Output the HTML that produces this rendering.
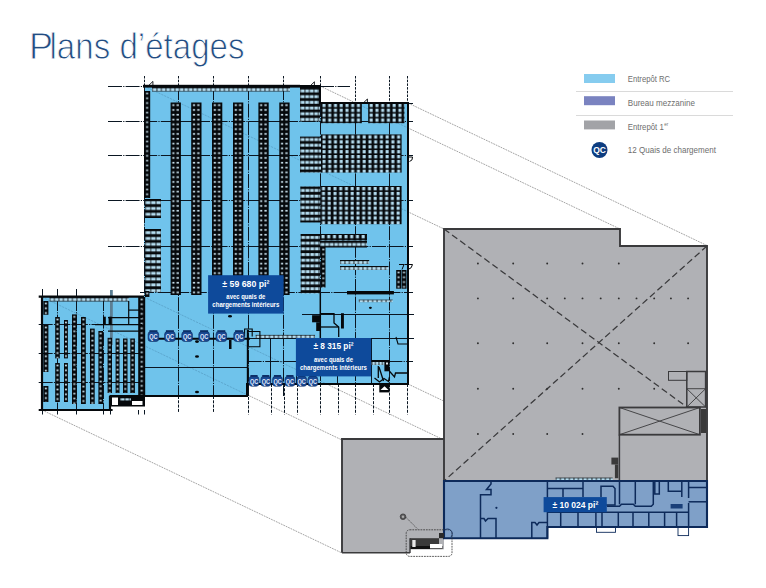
<!DOCTYPE html><html><head><meta charset="utf-8"><style>
html,body{margin:0;padding:0;background:#fff;width:766px;height:588px;overflow:hidden}
svg{position:absolute;left:0;top:0;display:block}
text{font-family:"Liberation Sans",sans-serif}
</style></head><body>
<svg width="766" height="588" viewBox="0 0 766 588">
<defs>
<pattern id="p0" x="152.40" y="86.50" width="4.5" height="5.7" patternUnits="userSpaceOnUse"><rect width="4.5" height="5.7" fill="#05080b"/><rect x="0.4" y="1.7" width="3.7" height="2.9" fill="#b4dcef"/></pattern>
<pattern id="p1" x="144.00" y="91.00" width="6.199999999999989" height="4.8" patternUnits="userSpaceOnUse"><rect width="6.199999999999989" height="4.8" fill="#05080b"/><rect x="2.0999999999999943" y="1.6" width="2.0" height="1.7" fill="#c4dce8"/></pattern>
<pattern id="p2" x="145.40" y="199.00" width="5.3" height="5.8" patternUnits="userSpaceOnUse"><rect width="5.3" height="5.8" fill="#05080b"/><rect x="0.4" y="2.2" width="4.5" height="2.9" fill="#b4dcef"/></pattern>
<pattern id="p3" x="145.40" y="229.00" width="5.3" height="5.8" patternUnits="userSpaceOnUse"><rect width="5.3" height="5.8" fill="#05080b"/><rect x="0.4" y="2.2" width="4.5" height="2.9" fill="#b4dcef"/></pattern>
<pattern id="p4" x="145.00" y="291.00" width="4.400000000000006" height="4.8" patternUnits="userSpaceOnUse"><rect width="4.400000000000006" height="4.8" fill="#05080b"/><rect x="1.2000000000000028" y="1.6" width="2.0" height="1.7" fill="#c4dce8"/></pattern>
<pattern id="p5" x="138.20" y="297.00" width="7.0" height="4.8" patternUnits="userSpaceOnUse"><rect width="7.0" height="4.8" fill="#05080b"/><rect x="2.5" y="1.6" width="2.0" height="1.7" fill="#c4dce8"/></pattern>
<pattern id="p6" x="170.60" y="102.50" width="10.3" height="4.8" patternUnits="userSpaceOnUse"><rect width="10.3" height="4.8" fill="#05080b"/><rect x="1.7" y="1.8" width="2.2" height="1.7" fill="#c4dce8"/><rect x="6.0" y="1.8" width="2.3" height="1.7" fill="#c4dce8"/></pattern>
<pattern id="p7" x="191.20" y="102.50" width="10.3" height="4.8" patternUnits="userSpaceOnUse"><rect width="10.3" height="4.8" fill="#05080b"/><rect x="1.7" y="1.8" width="2.2" height="1.7" fill="#c4dce8"/><rect x="6.0" y="1.8" width="2.3" height="1.7" fill="#c4dce8"/></pattern>
<pattern id="p8" x="212.00" y="102.50" width="10.3" height="4.8" patternUnits="userSpaceOnUse"><rect width="10.3" height="4.8" fill="#05080b"/><rect x="1.7" y="1.8" width="2.2" height="1.7" fill="#c4dce8"/><rect x="6.0" y="1.8" width="2.3" height="1.7" fill="#c4dce8"/></pattern>
<pattern id="p9" x="233.00" y="102.50" width="10.3" height="4.8" patternUnits="userSpaceOnUse"><rect width="10.3" height="4.8" fill="#05080b"/><rect x="1.7" y="1.8" width="2.2" height="1.7" fill="#c4dce8"/><rect x="6.0" y="1.8" width="2.3" height="1.7" fill="#c4dce8"/></pattern>
<pattern id="p10" x="258.40" y="102.50" width="10.3" height="4.8" patternUnits="userSpaceOnUse"><rect width="10.3" height="4.8" fill="#05080b"/><rect x="1.7" y="1.8" width="2.2" height="1.7" fill="#c4dce8"/><rect x="6.0" y="1.8" width="2.3" height="1.7" fill="#c4dce8"/></pattern>
<pattern id="p11" x="279.30" y="102.50" width="10.3" height="4.8" patternUnits="userSpaceOnUse"><rect width="10.3" height="4.8" fill="#05080b"/><rect x="1.7" y="1.8" width="2.2" height="1.7" fill="#c4dce8"/><rect x="6.0" y="1.8" width="2.3" height="1.7" fill="#c4dce8"/></pattern>
<pattern id="p12" x="300.40" y="86.90" width="4.5" height="5.7" patternUnits="userSpaceOnUse"><rect width="4.5" height="5.7" fill="#05080b"/><rect x="0.4" y="2.6" width="3.7" height="2.9" fill="#b4dcef"/></pattern>
<pattern id="p13" x="321.00" y="102.80" width="5.74" height="4.9" patternUnits="userSpaceOnUse"><rect width="5.74" height="4.9" fill="#05080b"/><rect x="1.5" y="1.0" width="3.0" height="3.3" fill="#b4dcef"/><rect x="5.7" y="0" width="0.6" height="4.9" fill="#3c4c58"/></pattern>
<pattern id="p14" x="368.20" y="102.80" width="5.74" height="4.9" patternUnits="userSpaceOnUse"><rect width="5.74" height="4.9" fill="#05080b"/><rect x="1.5" y="1.0" width="3.0" height="3.3" fill="#b4dcef"/><rect x="5.7" y="0" width="0.6" height="4.9" fill="#3c4c58"/></pattern>
<pattern id="p15" x="300.40" y="136.60" width="4.5" height="5.7" patternUnits="userSpaceOnUse"><rect width="4.5" height="5.7" fill="#05080b"/><rect x="0.4" y="1.5" width="3.7" height="2.9" fill="#b4dcef"/></pattern>
<pattern id="p16" x="321.00" y="134.40" width="5.74" height="4.9" patternUnits="userSpaceOnUse"><rect width="5.74" height="4.9" fill="#05080b"/><rect x="1.5" y="1.0" width="3.0" height="3.3" fill="#b4dcef"/><rect x="5.7" y="0" width="0.6" height="4.9" fill="#3c4c58"/></pattern>
<pattern id="p17" x="300.70" y="186.40" width="4.5" height="5.7" patternUnits="userSpaceOnUse"><rect width="4.5" height="5.7" fill="#05080b"/><rect x="0.4" y="2.6" width="3.7" height="2.9" fill="#b4dcef"/></pattern>
<pattern id="p18" x="320.50" y="186.00" width="5.74" height="4.9" patternUnits="userSpaceOnUse"><rect width="5.74" height="4.9" fill="#05080b"/><rect x="1.5" y="1.0" width="3.0" height="3.3" fill="#b4dcef"/><rect x="5.7" y="0" width="0.6" height="4.9" fill="#3c4c58"/></pattern>
<pattern id="p19" x="301.00" y="234.00" width="4.5" height="5.7" patternUnits="userSpaceOnUse"><rect width="4.5" height="5.7" fill="#05080b"/><rect x="0.4" y="2.0" width="3.7" height="2.9" fill="#b4dcef"/></pattern>
<pattern id="p20" x="320.00" y="234.00" width="5.74" height="4.9" patternUnits="userSpaceOnUse"><rect width="5.74" height="4.9" fill="#05080b"/><rect x="1.5" y="1.0" width="3.0" height="3.3" fill="#b4dcef"/><rect x="5.7" y="0" width="0.6" height="4.9" fill="#3c4c58"/></pattern>
<pattern id="p21" x="320.40" y="240.50" width="4.5" height="5.7" patternUnits="userSpaceOnUse"><rect width="4.5" height="5.7" fill="#05080b"/><rect x="0.4" y="2.5" width="3.7" height="2.9" fill="#b4dcef"/></pattern>
<pattern id="p22" x="321.00" y="247.00" width="4.5" height="4.8" patternUnits="userSpaceOnUse"><rect width="4.5" height="4.8" fill="#05080b"/><rect x="1.25" y="1.6" width="2.0" height="1.7" fill="#c4dce8"/></pattern>
<pattern id="p23" x="340.40" y="260.00" width="4.5" height="5.7" patternUnits="userSpaceOnUse"><rect width="4.5" height="5.7" fill="#05080b"/><rect x="0.4" y="1.1" width="3.7" height="2.9" fill="#b4dcef"/></pattern>
<pattern id="p24" x="340.40" y="266.00" width="4.5" height="5.7" patternUnits="userSpaceOnUse"><rect width="4.5" height="5.7" fill="#05080b"/><rect x="0.4" y="1.1" width="3.7" height="2.9" fill="#b4dcef"/></pattern>
<pattern id="p25" x="396.20" y="270.00" width="4.800000000000011" height="4.8" patternUnits="userSpaceOnUse"><rect width="4.800000000000011" height="4.8" fill="#05080b"/><rect x="1.4000000000000057" y="1.6" width="2.0" height="1.7" fill="#c4dce8"/></pattern>
<pattern id="p26" x="401.50" y="270.00" width="5.0" height="4.8" patternUnits="userSpaceOnUse"><rect width="5.0" height="4.8" fill="#05080b"/><rect x="1.5" y="1.6" width="2.0" height="1.7" fill="#c4dce8"/></pattern>
<pattern id="p27" x="359.10" y="299.60" width="4.5" height="5.7" patternUnits="userSpaceOnUse"><rect width="4.5" height="5.7" fill="#05080b"/><rect x="0.4" y="0.4" width="3.7" height="2.9" fill="#b4dcef"/></pattern>
<pattern id="p28" x="256.00" y="334.90" width="4.5" height="5.7" patternUnits="userSpaceOnUse"><rect width="4.5" height="5.7" fill="#05080b"/><rect x="0.4" y="0.6" width="3.7" height="2.9" fill="#b4dcef"/></pattern>
<pattern id="p29" x="371.90" y="361.00" width="3.5" height="4" patternUnits="userSpaceOnUse"><rect width="3.5" height="4" fill="#05080b"/><rect x="0.4" y="1.0" width="2.7" height="2.9" fill="#b4dcef"/></pattern>
<pattern id="p30" x="49.90" y="296.50" width="4.5" height="5.7" patternUnits="userSpaceOnUse"><rect width="4.5" height="5.7" fill="#05080b"/><rect x="0.4" y="1.6" width="3.7" height="2.9" fill="#b4dcef"/></pattern>
<pattern id="p31" x="43.30" y="301.00" width="5.100000000000001" height="4.8" patternUnits="userSpaceOnUse"><rect width="5.100000000000001" height="4.8" fill="#05080b"/><rect x="1.5500000000000007" y="1.6" width="2.0" height="1.7" fill="#c4dce8"/></pattern>
<pattern id="p32" x="43.30" y="325.00" width="5.100000000000001" height="4.8" patternUnits="userSpaceOnUse"><rect width="5.100000000000001" height="4.8" fill="#05080b"/><rect x="1.5500000000000007" y="1.6" width="2.0" height="1.7" fill="#c4dce8"/></pattern>
<pattern id="p33" x="43.30" y="386.00" width="5.100000000000001" height="4.8" patternUnits="userSpaceOnUse"><rect width="5.100000000000001" height="4.8" fill="#05080b"/><rect x="1.5500000000000007" y="1.6" width="2.0" height="1.7" fill="#c4dce8"/></pattern>
<pattern id="p34" x="55.20" y="317.00" width="4.599999999999994" height="4.8" patternUnits="userSpaceOnUse"><rect width="4.599999999999994" height="4.8" fill="#05080b"/><rect x="1.2999999999999972" y="1.6" width="2.0" height="1.7" fill="#c4dce8"/></pattern>
<pattern id="p35" x="55.20" y="363.00" width="4.599999999999994" height="4.8" patternUnits="userSpaceOnUse"><rect width="4.599999999999994" height="4.8" fill="#05080b"/><rect x="1.2999999999999972" y="1.6" width="2.0" height="1.7" fill="#c4dce8"/></pattern>
<pattern id="p36" x="64.00" y="320.00" width="3.9000000000000057" height="4.8" patternUnits="userSpaceOnUse"><rect width="3.9000000000000057" height="4.8" fill="#05080b"/><rect x="0.9500000000000028" y="1.6" width="2.0" height="1.7" fill="#c4dce8"/></pattern>
<pattern id="p37" x="64.00" y="363.00" width="3.9000000000000057" height="4.8" patternUnits="userSpaceOnUse"><rect width="3.9000000000000057" height="4.8" fill="#05080b"/><rect x="0.9500000000000028" y="1.6" width="2.0" height="1.7" fill="#c4dce8"/></pattern>
<pattern id="p38" x="72.00" y="314.40" width="4.599999999999994" height="4.8" patternUnits="userSpaceOnUse"><rect width="4.599999999999994" height="4.8" fill="#05080b"/><rect x="1.2999999999999972" y="1.6" width="2.0" height="1.7" fill="#c4dce8"/></pattern>
<pattern id="p39" x="81.00" y="317.00" width="4.799999999999997" height="4.8" patternUnits="userSpaceOnUse"><rect width="4.799999999999997" height="4.8" fill="#05080b"/><rect x="1.3999999999999986" y="1.6" width="2.0" height="1.7" fill="#c4dce8"/></pattern>
<pattern id="p40" x="90.00" y="328.60" width="4.700000000000003" height="4.8" patternUnits="userSpaceOnUse"><rect width="4.700000000000003" height="4.8" fill="#05080b"/><rect x="1.3500000000000014" y="1.6" width="2.0" height="1.7" fill="#c4dce8"/></pattern>
<pattern id="p41" x="98.40" y="331.00" width="4.599999999999994" height="4.8" patternUnits="userSpaceOnUse"><rect width="4.599999999999994" height="4.8" fill="#05080b"/><rect x="1.2999999999999972" y="1.6" width="2.0" height="1.7" fill="#c4dce8"/></pattern>
<pattern id="p42" x="107.60" y="337.80" width="4.400000000000006" height="4.8" patternUnits="userSpaceOnUse"><rect width="4.400000000000006" height="4.8" fill="#05080b"/><rect x="1.2000000000000028" y="1.6" width="2.0" height="1.7" fill="#c4dce8"/></pattern>
<pattern id="p43" x="115.60" y="338.50" width="3.9000000000000057" height="4.8" patternUnits="userSpaceOnUse"><rect width="3.9000000000000057" height="4.8" fill="#05080b"/><rect x="0.9500000000000028" y="1.6" width="2.0" height="1.7" fill="#c4dce8"/></pattern>
<pattern id="p44" x="123.00" y="338.50" width="4.5" height="4.8" patternUnits="userSpaceOnUse"><rect width="4.5" height="4.8" fill="#05080b"/><rect x="1.25" y="1.6" width="2.0" height="1.7" fill="#c4dce8"/></pattern>
<pattern id="p45" x="130.30" y="338.50" width="4.599999999999994" height="4.8" patternUnits="userSpaceOnUse"><rect width="4.599999999999994" height="4.8" fill="#05080b"/><rect x="1.2999999999999972" y="1.6" width="2.0" height="1.7" fill="#c4dce8"/></pattern>
<pattern id="p46" x="120.40" y="398.00" width="4.5" height="5.7" patternUnits="userSpaceOnUse"><rect width="4.5" height="5.7" fill="#05080b"/><rect x="0.4" y="0.3" width="3.7" height="2.9" fill="#b4dcef"/></pattern>
<pattern id="p47" x="555.90" y="477.60" width="4.5" height="5.7" patternUnits="userSpaceOnUse"><rect width="4.5" height="5.7" fill="#05080b"/><rect x="0.4" y="0.5" width="3.7" height="2.9" fill="#b4dcef"/></pattern>
</defs>
<rect width="766" height="588" fill="#fff"/>

<text x="29" y="59.2" font-size="36" fill="#234d82" stroke="#fff" stroke-width="0.9">P</text>
<text transform="translate(49.5,59.2) scale(1,1.05)" x="0" y="0" font-size="36" fill="#234d82" stroke="#fff" stroke-width="0.9" textLength="195" lengthAdjust="spacingAndGlyphs">lans d’étages</text>
<rect x="584.00" y="74.00" width="31.00" height="9.00" fill="#86ccef" />
<rect x="584.00" y="96.20" width="31.00" height="9.00" fill="#7a83c0" />
<rect x="584.00" y="120.50" width="31.00" height="8.90" fill="#a2a3a7" />
<line x1="576" y1="91.5" x2="733" y2="91.5" stroke="#dadada" stroke-width="1" />
<line x1="576" y1="115.5" x2="733" y2="115.5" stroke="#dadada" stroke-width="1" />
<circle cx="599.5" cy="150" r="8" fill="#0d3d80"/>
<text x="599.5" y="153.2" font-size="8.5" font-weight="bold" fill="#fff" text-anchor="middle">QC</text>
<text x="627.8" y="81.9" font-size="8.5" fill="#6e6e6e" textLength="42.4" lengthAdjust="spacingAndGlyphs">Entrepôt RC</text>
<text x="627.8" y="105.8" font-size="8.5" fill="#6e6e6e" textLength="67.3" lengthAdjust="spacingAndGlyphs">Bureau mezzanine</text>
<text x="627.8" y="152.6" font-size="8.5" fill="#6e6e6e" textLength="88.1" lengthAdjust="spacingAndGlyphs">12 Quais de chargement</text>
<text x="627.8" y="129.8" font-size="8.5" fill="#6e6e6e" textLength="36" lengthAdjust="spacingAndGlyphs">Entrepôt 1</text>
<text x="664.3" y="126" font-size="4.5" fill="#6e6e6e">er</text>
<line x1="144" y1="86" x2="444" y2="229" stroke="#7c7c7c" stroke-width="0.7" stroke-dasharray="1.8 0.9"/>
<line x1="320" y1="86" x2="620" y2="229" stroke="#7c7c7c" stroke-width="0.7" stroke-dasharray="1.8 0.9"/>
<line x1="408" y1="103" x2="708" y2="246" stroke="#7c7c7c" stroke-width="0.7" stroke-dasharray="1.8 0.9"/>
<line x1="42" y1="297" x2="342" y2="440" stroke="#7c7c7c" stroke-width="0.7" stroke-dasharray="1.8 0.9"/>
<line x1="42" y1="410" x2="342" y2="553" stroke="#7c7c7c" stroke-width="0.7" stroke-dasharray="1.8 0.9"/>
<line x1="144" y1="297" x2="444" y2="440" stroke="#7c7c7c" stroke-width="0.7" stroke-dasharray="1.8 0.9"/>
<line x1="408" y1="384" x2="708" y2="527" stroke="#7c7c7c" stroke-width="0.7" stroke-dasharray="1.8 0.9"/>
<polygon points="144,86 320,86 320,103 408,103 408,384 247,384 247,396 144,396" fill="#70c3ec"/>
<polygon points="42,297 144,297 144,396 110,396 110,410 42,410" fill="#70c3ec"/>
<clipPath id="cb"><polygon points="144,86 320,86 320,103 408,103 408,384 247,384 247,396 144,396"/><polygon points="42,297 144,297 144,396 110,396 110,410 42,410"/></clipPath>
<g clip-path="url(#cb)">
<line x1="144" y1="86" x2="444" y2="229" stroke="#2f5f80" stroke-width="0.5" stroke-dasharray="2.2 1" opacity="0.55"/>
<line x1="320" y1="86" x2="620" y2="229" stroke="#2f5f80" stroke-width="0.5" stroke-dasharray="2.2 1" opacity="0.55"/>
<line x1="42" y1="297" x2="342" y2="440" stroke="#2f5f80" stroke-width="0.5" stroke-dasharray="2.2 1" opacity="0.55"/>
<line x1="144" y1="297" x2="444" y2="440" stroke="#2f5f80" stroke-width="0.5" stroke-dasharray="2.2 1" opacity="0.55"/>
</g>
<line x1="108" y1="121.5" x2="413" y2="121.5" stroke="#0a1622" stroke-width="1" stroke-dasharray="14 1.2 1.2 1.2"/>
<line x1="108" y1="155.5" x2="413" y2="155.5" stroke="#0a1622" stroke-width="1" stroke-dasharray="14 1.2 1.2 1.2"/>
<line x1="108" y1="200.5" x2="413" y2="200.5" stroke="#0a1622" stroke-width="1" stroke-dasharray="14 1.2 1.2 1.2"/>
<line x1="108" y1="246.5" x2="413" y2="246.5" stroke="#0a1622" stroke-width="1" stroke-dasharray="14 1.2 1.2 1.2"/>
<line x1="140" y1="292.5" x2="413" y2="292.5" stroke="#0a1622" stroke-width="1" stroke-dasharray="14 1.2 1.2 1.2"/>
<line x1="247.6" y1="361.5" x2="413" y2="361.5" stroke="#0a1622" stroke-width="1" stroke-dasharray="14 1.2 1.2 1.2"/>
<line x1="108" y1="86.5" x2="144" y2="86.5" stroke="#0a1622" stroke-width="1" stroke-dasharray="14 1.2 1.2 1.2"/>
<line x1="320" y1="86.5" x2="350" y2="86.5" stroke="#0a1622" stroke-width="1" stroke-dasharray="14 1.2 1.2 1.2"/>
<line x1="408" y1="103.5" x2="413" y2="103.5" stroke="#0a1622" stroke-width="1" />
<line x1="302" y1="314.5" x2="414" y2="314.5" stroke="#0a1622" stroke-width="1" />
<line x1="247" y1="338.5" x2="414" y2="338.5" stroke="#0a1622" stroke-width="1" />
<line x1="144.5" y1="76" x2="144.5" y2="86" stroke="#0a1622" stroke-width="1" stroke-dasharray="2.5 1.2"/>
<line x1="144.5" y1="86" x2="144.5" y2="396" stroke="#0a1622" stroke-width="1" stroke-dasharray="14 1.2 1.2 1.2"/>
<line x1="178.5" y1="76" x2="178.5" y2="86" stroke="#0a1622" stroke-width="1" stroke-dasharray="2.5 1.2"/>
<line x1="178.5" y1="86" x2="178.5" y2="396" stroke="#0a1622" stroke-width="1" stroke-dasharray="14 1.2 1.2 1.2"/>
<line x1="213.5" y1="76" x2="213.5" y2="86" stroke="#0a1622" stroke-width="1" stroke-dasharray="2.5 1.2"/>
<line x1="213.5" y1="86" x2="213.5" y2="396" stroke="#0a1622" stroke-width="1" stroke-dasharray="14 1.2 1.2 1.2"/>
<line x1="248.5" y1="76" x2="248.5" y2="86" stroke="#0a1622" stroke-width="1" stroke-dasharray="2.5 1.2"/>
<line x1="248.5" y1="86" x2="248.5" y2="396" stroke="#0a1622" stroke-width="1" stroke-dasharray="14 1.2 1.2 1.2"/>
<line x1="283.5" y1="76" x2="283.5" y2="86" stroke="#0a1622" stroke-width="1" stroke-dasharray="2.5 1.2"/>
<line x1="283.5" y1="86" x2="283.5" y2="396" stroke="#0a1622" stroke-width="1" stroke-dasharray="14 1.2 1.2 1.2"/>
<line x1="320.5" y1="76" x2="320.5" y2="103" stroke="#0a1622" stroke-width="1" stroke-dasharray="2.5 1.2"/>
<line x1="355.5" y1="76" x2="355.5" y2="103" stroke="#0a1622" stroke-width="1" stroke-dasharray="2.5 1.2"/>
<line x1="389.5" y1="76" x2="389.5" y2="103" stroke="#0a1622" stroke-width="1" stroke-dasharray="2.5 1.2"/>
<line x1="407.5" y1="76" x2="407.5" y2="103" stroke="#0a1622" stroke-width="1" stroke-dasharray="2.5 1.2"/>
<line x1="320.5" y1="103" x2="320.5" y2="384" stroke="#0a1622" stroke-width="1" stroke-dasharray="14 1.2 1.2 1.2"/>
<line x1="355.5" y1="103" x2="355.5" y2="384" stroke="#0a1622" stroke-width="1" stroke-dasharray="14 1.2 1.2 1.2"/>
<line x1="389.5" y1="103" x2="389.5" y2="384" stroke="#0a1622" stroke-width="1" stroke-dasharray="14 1.2 1.2 1.2"/>
<line x1="270.5" y1="338.6" x2="270.5" y2="384" stroke="#0a1622" stroke-width="1" />
<line x1="296.5" y1="338.6" x2="296.5" y2="384" stroke="#0a1622" stroke-width="1" />
<line x1="337.5" y1="338.6" x2="337.5" y2="384" stroke="#0a1622" stroke-width="1" />
<line x1="371.5" y1="338.6" x2="371.5" y2="384" stroke="#0a1622" stroke-width="1" />
<line x1="248.5" y1="384" x2="248.5" y2="414.5" stroke="#0a1622" stroke-width="1" stroke-dasharray="3 1.3"/>
<line x1="271.5" y1="384" x2="271.5" y2="414.5" stroke="#0a1622" stroke-width="1" stroke-dasharray="3 1.3"/>
<line x1="284.5" y1="384" x2="284.5" y2="414.5" stroke="#0a1622" stroke-width="1" stroke-dasharray="3 1.3"/>
<line x1="297.5" y1="384" x2="297.5" y2="414.5" stroke="#0a1622" stroke-width="1" stroke-dasharray="3 1.3"/>
<line x1="320.5" y1="384" x2="320.5" y2="414.5" stroke="#0a1622" stroke-width="1" stroke-dasharray="3 1.3"/>
<line x1="338.5" y1="384" x2="338.5" y2="414.5" stroke="#0a1622" stroke-width="1" stroke-dasharray="3 1.3"/>
<line x1="355.5" y1="384" x2="355.5" y2="414.5" stroke="#0a1622" stroke-width="1" stroke-dasharray="3 1.3"/>
<line x1="373.5" y1="384" x2="373.5" y2="414.5" stroke="#0a1622" stroke-width="1" stroke-dasharray="3 1.3"/>
<line x1="389.5" y1="384" x2="389.5" y2="414.5" stroke="#0a1622" stroke-width="1" stroke-dasharray="3 1.3"/>
<line x1="407.5" y1="384" x2="407.5" y2="414.5" stroke="#0a1622" stroke-width="1" stroke-dasharray="3 1.3"/>
<line x1="178.5" y1="396" x2="178.5" y2="413" stroke="#0a1622" stroke-width="1" stroke-dasharray="3 1.3"/>
<line x1="213.5" y1="396" x2="213.5" y2="413" stroke="#0a1622" stroke-width="1" stroke-dasharray="3 1.3"/>
<line x1="42.5" y1="410" x2="42.5" y2="414.5" stroke="#0a1622" stroke-width="1" />
<line x1="57.5" y1="410" x2="57.5" y2="414.5" stroke="#0a1622" stroke-width="1" />
<line x1="76.5" y1="410" x2="76.5" y2="414.5" stroke="#0a1622" stroke-width="1" />
<line x1="103.5" y1="410" x2="103.5" y2="414.5" stroke="#0a1622" stroke-width="1" />
<line x1="110.5" y1="410" x2="110.5" y2="414.5" stroke="#0a1622" stroke-width="1" />
<line x1="138.5" y1="410" x2="138.5" y2="414.5" stroke="#0a1622" stroke-width="1" />
<line x1="144.5" y1="410" x2="144.5" y2="414.5" stroke="#0a1622" stroke-width="1" />
<line x1="38.7" y1="324.5" x2="144" y2="324.5" stroke="#0a1622" stroke-width="1" stroke-dasharray="14 1.2 1.2 1.2"/>
<line x1="38.7" y1="353.5" x2="144" y2="353.5" stroke="#0a1622" stroke-width="1" stroke-dasharray="14 1.2 1.2 1.2"/>
<line x1="38.7" y1="382.5" x2="144" y2="382.5" stroke="#0a1622" stroke-width="1" stroke-dasharray="14 1.2 1.2 1.2"/>
<line x1="42.5" y1="289" x2="42.5" y2="296" stroke="#0a1622" stroke-width="1" />
<line x1="57.5" y1="289" x2="57.5" y2="296" stroke="#0a1622" stroke-width="1" />
<line x1="76.5" y1="289" x2="76.5" y2="296" stroke="#0a1622" stroke-width="1" />
<line x1="57.5" y1="297" x2="57.5" y2="410" stroke="#0a1622" stroke-width="1" stroke-dasharray="14 1.2 1.2 1.2"/>
<line x1="76.5" y1="297" x2="76.5" y2="410" stroke="#0a1622" stroke-width="1" stroke-dasharray="14 1.2 1.2 1.2"/>
<line x1="103.5" y1="297" x2="103.5" y2="410" stroke="#0a1622" stroke-width="1" stroke-dasharray="14 1.2 1.2 1.2"/>
<rect x="110.00" y="290.00" width="2.80" height="55.00" fill="#5c7f94" />
<rect x="152.00" y="86.50" width="138.00" height="5.00" fill="url(#p0)" />
<rect x="144.00" y="91.00" width="6.20" height="107.00" fill="url(#p1)" />
<rect x="145.00" y="199.00" width="16.00" height="19.00" fill="url(#p2)" />
<rect x="145.00" y="229.00" width="16.00" height="63.00" fill="url(#p3)" />
<rect x="145.00" y="291.00" width="4.40" height="6.00" fill="url(#p4)" />
<rect x="138.20" y="297.00" width="7.00" height="99.00" fill="url(#p5)" />
<rect x="170.60" y="102.50" width="10.30" height="192.50" fill="url(#p6)" />
<rect x="191.20" y="102.50" width="10.30" height="192.50" fill="url(#p7)" />
<rect x="212.00" y="102.50" width="10.30" height="192.50" fill="url(#p8)" />
<rect x="233.00" y="102.50" width="10.30" height="192.50" fill="url(#p9)" />
<rect x="258.40" y="102.50" width="10.30" height="192.50" fill="url(#p10)" />
<rect x="279.30" y="102.50" width="10.30" height="192.50" fill="url(#p11)" />
<rect x="300.00" y="86.90" width="20.00" height="34.60" fill="url(#p12)" />
<rect x="321.00" y="102.80" width="40.80" height="20.40" fill="url(#p13)" />
<rect x="368.20" y="102.80" width="36.30" height="20.40" fill="url(#p14)" />
<rect x="300.00" y="136.60" width="21.00" height="36.00" fill="url(#p15)" />
<rect x="321.00" y="134.40" width="80.60" height="38.20" fill="url(#p16)" />
<rect x="300.30" y="186.40" width="20.20" height="36.10" fill="url(#p17)" />
<rect x="320.50" y="186.00" width="81.10" height="38.20" fill="url(#p18)" />
<rect x="300.60" y="234.00" width="19.40" height="59.40" fill="url(#p19)" />
<rect x="320.00" y="234.00" width="47.00" height="6.50" fill="url(#p20)" />
<rect x="320.00" y="240.50" width="47.00" height="7.00" fill="url(#p21)" />
<rect x="321.00" y="247.00" width="4.50" height="40.50" fill="url(#p22)" />
<rect x="340.00" y="260.00" width="29.20" height="4.00" fill="url(#p23)" />
<rect x="340.00" y="266.00" width="48.50" height="4.00" fill="url(#p24)" />
<rect x="396.20" y="270.00" width="4.80" height="18.70" fill="url(#p25)" />
<rect x="401.50" y="270.00" width="5.00" height="18.70" fill="url(#p26)" />
<rect x="347.00" y="291.00" width="46.90" height="3.40" fill="#05080b" />
<rect x="358.70" y="299.60" width="34.00" height="2.60" fill="url(#p27)" />
<ellipse cx="370.4" cy="307.8" rx="1.5" ry="1.1" fill="#05080b"/>
<ellipse cx="230" cy="316.3" rx="2" ry="1.3" fill="#05080b"/>
<ellipse cx="197" cy="356.5" rx="2" ry="1.3" fill="#05080b"/>
<ellipse cx="197" cy="392" rx="2" ry="1.3" fill="#05080b"/>
<ellipse cx="197" cy="341.6" rx="2" ry="1.3" fill="#05080b"/>
<rect x="229.00" y="340.00" width="2.50" height="9.00" fill="#05080b" />
<polyline points="320.3,313.7 334,313.7 334,322.9 338.7,327 338.7,337" fill="none" stroke="#05080b" stroke-width="1.3" />
<line x1="320.3" y1="327" x2="338.7" y2="327" stroke="#05080b" stroke-width="1.3" />
<line x1="320.3" y1="293" x2="320.3" y2="340" stroke="#05080b" stroke-width="1.5" />
<rect x="312.10" y="315.20" width="8.20" height="7.10" fill="#05080b" />
<rect x="316.20" y="322.30" width="4.10" height="8.70" fill="#05080b" />
<rect x="341.00" y="313.20" width="2.90" height="15.30" fill="#05080b" />
<rect x="255.60" y="334.90" width="59.40" height="3.10" fill="url(#p28)" />
<polyline points="247.6,331.5 259.9,331.5 259.9,346.8 247.6,346.8" fill="none" stroke="#05080b" stroke-width="1.1" />
<polyline points="244.6,336.6 244.6,329 252.2,329 252.2,336.6" fill="none" stroke="#05080b" stroke-width="1.1" />
<polyline points="371.5,361 389.5,361" fill="none" stroke="#05080b" stroke-width="2" />
<rect x="371.50" y="361.00" width="13.50" height="4.00" fill="url(#p29)" />
<rect x="384.40" y="361.00" width="5.10" height="10.30" fill="#05080b" />
<rect x="386.00" y="362.50" width="2.00" height="2.00" fill="#dfe8ee" />
<polyline points="389.5,371.3 394.5,377 395.5,373 408,373" fill="none" stroke="#05080b" stroke-width="1.3" />
<polyline points="378.3,366 378.3,378" fill="none" stroke="#05080b" stroke-width="1.3" />
<polyline points="379,367 383.5,381" fill="none" stroke="#05080b" stroke-width="1.3" />
<polyline points="374.5,378 379.5,382 384,378.5 388.5,381.5 389.5,377" fill="none" stroke="#05080b" stroke-width="1.3" />
<rect x="379.30" y="383.70" width="10.20" height="8.70" fill="#05080b" />
<polygon points="380.5,390 384.5,386.3 388.5,390" fill="#fff"/>
<polyline points="396,337 398,344 408,344" fill="none" stroke="#05080b" stroke-width="1.1" />
<rect x="49.50" y="296.50" width="79.20" height="5.00" fill="url(#p30)" />
<rect x="43.30" y="301.00" width="5.10" height="13.80" fill="url(#p31)" />
<rect x="43.30" y="325.00" width="5.10" height="47.00" fill="url(#p32)" />
<rect x="43.30" y="386.00" width="5.10" height="16.00" fill="url(#p33)" />
<rect x="55.20" y="317.00" width="4.60" height="41.40" fill="url(#p34)" />
<rect x="55.20" y="363.00" width="4.60" height="39.00" fill="url(#p35)" />
<rect x="64.00" y="320.00" width="3.90" height="38.40" fill="url(#p36)" />
<rect x="64.00" y="363.00" width="3.90" height="39.00" fill="url(#p37)" />
<rect x="72.00" y="314.40" width="4.60" height="89.60" fill="url(#p38)" />
<rect x="81.00" y="317.00" width="4.80" height="87.00" fill="url(#p39)" />
<rect x="90.00" y="328.60" width="4.70" height="75.40" fill="url(#p40)" />
<rect x="98.40" y="331.00" width="4.60" height="73.00" fill="url(#p41)" />
<rect x="107.60" y="337.80" width="4.40" height="55.20" fill="url(#p42)" />
<rect x="115.60" y="338.50" width="3.90" height="54.50" fill="url(#p43)" />
<rect x="123.00" y="338.50" width="4.50" height="54.50" fill="url(#p44)" />
<rect x="130.30" y="338.50" width="4.60" height="54.50" fill="url(#p45)" />
<line x1="128.7" y1="301" x2="128.7" y2="324.6" stroke="#05080b" stroke-width="1.2" />
<line x1="128.7" y1="310.1" x2="142" y2="310.1" stroke="#05080b" stroke-width="1.2" />
<line x1="108" y1="317.6" x2="142" y2="317.6" stroke="#05080b" stroke-width="1.2" />
<line x1="95" y1="324.6" x2="142" y2="324.6" stroke="#05080b" stroke-width="1.2" />
<line x1="108" y1="331.2" x2="142" y2="331.2" stroke="#05080b" stroke-width="1.2" />
<rect x="103.00" y="316.70" width="2.80" height="7.30" fill="#05080b" />
<rect x="108.60" y="316.70" width="3.20" height="7.30" fill="#05080b" />
<polyline points="144,86 320,86 320,103 408,103 408,384 247,384 247,396 145,396" fill="none" stroke="#05080b" stroke-width="2" />
<rect x="143.00" y="84.80" width="157.00" height="2.80" fill="#05080b" />
<polyline points="144,296.6 38.7,296.6" fill="none" stroke="#05080b" stroke-width="2.2" />
<polyline points="42,296.6 42,410 110,410 110,396" fill="none" stroke="#05080b" stroke-width="2.2" />
<line x1="38.7" y1="410" x2="112.6" y2="410" stroke="#05080b" stroke-width="2.2" />
<rect x="141.00" y="86.00" width="-136.50" height="224.00" fill="#05080b" />
<rect x="109.50" y="395.00" width="35.50" height="11.50" fill="#05080b" />
<rect x="112.00" y="397.50" width="6.00" height="7.50" fill="#fff" />
<rect x="132.00" y="401.00" width="10.50" height="4.00" fill="#fff" />
<rect x="120.00" y="398.00" width="11.00" height="2.50" fill="url(#p46)" />
<path d="M149,85.2 L152.9,81.4 L152.9,85.2" fill="none" stroke="#05080b" stroke-width="0.9"/>
<path d="M310.5,85.6 L314.4,81.8 L314.4,85.6" fill="none" stroke="#05080b" stroke-width="0.9"/>
<path d="M363.5,102.8 L367.4,99.0 L367.4,102.8" fill="none" stroke="#05080b" stroke-width="0.9"/>
<path d="M408,157 L412.5,157 Q413,160.5 409.5,161.5" fill="none" stroke="#05080b" stroke-width="1"/>
<path d="M399,264.5 L404,264.5 L402,269.5 M404.5,264.5 L412.5,264.5 Q412,268.5 408,269.5" fill="none" stroke="#05080b" stroke-width="1"/>
<line x1="149" y1="338.8" x2="250" y2="338.8" stroke="#05080b" stroke-width="2" />
<line x1="145" y1="367.5" x2="247.6" y2="367.5" stroke="#0a1622" stroke-width="1" />
<line x1="247.6" y1="329.8" x2="247.6" y2="396" stroke="#05080b" stroke-width="1.6" />
<rect x="149.40" y="330.20" width="8.00" height="4" fill="#0d2f66"/>
<rect x="148.10" y="331.80" width="10.60" height="9.60" rx="2.4" fill="#1a4a94" stroke="#0b2a5c" stroke-width="0.6"/>
<text x="153.40" y="338.90" font-size="6.6" font-weight="bold" fill="#e6eeff" text-anchor="middle" textLength="8.2" lengthAdjust="spacingAndGlyphs">QC</text>
<rect x="165.90" y="330.20" width="8.00" height="4" fill="#0d2f66"/>
<rect x="164.60" y="331.80" width="10.60" height="9.60" rx="2.4" fill="#1a4a94" stroke="#0b2a5c" stroke-width="0.6"/>
<text x="169.90" y="338.90" font-size="6.6" font-weight="bold" fill="#e6eeff" text-anchor="middle" textLength="8.2" lengthAdjust="spacingAndGlyphs">QC</text>
<rect x="183.10" y="330.20" width="8.00" height="4" fill="#0d2f66"/>
<rect x="181.80" y="331.80" width="10.60" height="9.60" rx="2.4" fill="#1a4a94" stroke="#0b2a5c" stroke-width="0.6"/>
<text x="187.10" y="338.90" font-size="6.6" font-weight="bold" fill="#e6eeff" text-anchor="middle" textLength="8.2" lengthAdjust="spacingAndGlyphs">QC</text>
<rect x="200.10" y="330.20" width="8.00" height="4" fill="#0d2f66"/>
<rect x="198.80" y="331.80" width="10.60" height="9.60" rx="2.4" fill="#1a4a94" stroke="#0b2a5c" stroke-width="0.6"/>
<text x="204.10" y="338.90" font-size="6.6" font-weight="bold" fill="#e6eeff" text-anchor="middle" textLength="8.2" lengthAdjust="spacingAndGlyphs">QC</text>
<rect x="217.30" y="330.20" width="8.00" height="4" fill="#0d2f66"/>
<rect x="216.00" y="331.80" width="10.60" height="9.60" rx="2.4" fill="#1a4a94" stroke="#0b2a5c" stroke-width="0.6"/>
<text x="221.30" y="338.90" font-size="6.6" font-weight="bold" fill="#e6eeff" text-anchor="middle" textLength="8.2" lengthAdjust="spacingAndGlyphs">QC</text>
<rect x="235.10" y="330.20" width="8.00" height="4" fill="#0d2f66"/>
<rect x="233.80" y="331.80" width="10.60" height="9.60" rx="2.4" fill="#1a4a94" stroke="#0b2a5c" stroke-width="0.6"/>
<text x="239.10" y="338.90" font-size="6.6" font-weight="bold" fill="#e6eeff" text-anchor="middle" textLength="8.2" lengthAdjust="spacingAndGlyphs">QC</text>
<rect x="250.40" y="375.00" width="7.20" height="4" fill="#0d2f66"/>
<rect x="249.10" y="376.60" width="9.80" height="9.60" rx="2.4" fill="#1a4a94" stroke="#0b2a5c" stroke-width="0.6"/>
<text x="254.00" y="383.70" font-size="6.6" font-weight="bold" fill="#e6eeff" text-anchor="middle" textLength="8.2" lengthAdjust="spacingAndGlyphs">QC</text>
<rect x="262.20" y="375.00" width="7.20" height="4" fill="#0d2f66"/>
<rect x="260.90" y="376.60" width="9.80" height="9.60" rx="2.4" fill="#1a4a94" stroke="#0b2a5c" stroke-width="0.6"/>
<text x="265.80" y="383.70" font-size="6.6" font-weight="bold" fill="#e6eeff" text-anchor="middle" textLength="8.2" lengthAdjust="spacingAndGlyphs">QC</text>
<rect x="273.90" y="375.00" width="7.20" height="4" fill="#0d2f66"/>
<rect x="272.60" y="376.60" width="9.80" height="9.60" rx="2.4" fill="#1a4a94" stroke="#0b2a5c" stroke-width="0.6"/>
<text x="277.50" y="383.70" font-size="6.6" font-weight="bold" fill="#e6eeff" text-anchor="middle" textLength="8.2" lengthAdjust="spacingAndGlyphs">QC</text>
<rect x="286.30" y="375.00" width="7.20" height="4" fill="#0d2f66"/>
<rect x="285.00" y="376.60" width="9.80" height="9.60" rx="2.4" fill="#1a4a94" stroke="#0b2a5c" stroke-width="0.6"/>
<text x="289.90" y="383.70" font-size="6.6" font-weight="bold" fill="#e6eeff" text-anchor="middle" textLength="8.2" lengthAdjust="spacingAndGlyphs">QC</text>
<rect x="298.10" y="375.00" width="7.20" height="4" fill="#0d2f66"/>
<rect x="296.80" y="376.60" width="9.80" height="9.60" rx="2.4" fill="#1a4a94" stroke="#0b2a5c" stroke-width="0.6"/>
<text x="301.70" y="383.70" font-size="6.6" font-weight="bold" fill="#e6eeff" text-anchor="middle" textLength="8.2" lengthAdjust="spacingAndGlyphs">QC</text>
<rect x="309.20" y="375.00" width="7.20" height="4" fill="#0d2f66"/>
<rect x="307.90" y="376.60" width="9.80" height="9.60" rx="2.4" fill="#1a4a94" stroke="#0b2a5c" stroke-width="0.6"/>
<text x="312.80" y="383.70" font-size="6.6" font-weight="bold" fill="#e6eeff" text-anchor="middle" textLength="8.2" lengthAdjust="spacingAndGlyphs">QC</text>
<rect x="208.10" y="275.20" width="75.50" height="38.40" fill="#0e4a9b" />
<text x="245.85" y="287.2" font-size="9.2" font-weight="bold" fill="#fff" text-anchor="middle" textLength="47" lengthAdjust="spacingAndGlyphs">± 59 680 pi²</text>
<text x="245.85" y="299.2" font-size="6.6" font-weight="bold" fill="#fff" text-anchor="middle" textLength="39" lengthAdjust="spacingAndGlyphs">avec quais de</text>
<text x="245.85" y="307" font-size="6.6" font-weight="bold" fill="#fff" text-anchor="middle" textLength="67" lengthAdjust="spacingAndGlyphs">chargements intérieurs</text>
<rect x="295.90" y="338.00" width="75.20" height="38.40" fill="#0e4a9b" />
<text x="333.50" y="349.4" font-size="9.2" font-weight="bold" fill="#fff" text-anchor="middle" textLength="40" lengthAdjust="spacingAndGlyphs">± 8 315 pi²</text>
<text x="333.50" y="361.7" font-size="6.6" font-weight="bold" fill="#fff" text-anchor="middle" textLength="39" lengthAdjust="spacingAndGlyphs">avec quais de</text>
<text x="333.50" y="369.7" font-size="6.6" font-weight="bold" fill="#fff" text-anchor="middle" textLength="67" lengthAdjust="spacingAndGlyphs">chargements intérieurs</text>
<polygon points="444,229 620,229 620,246 707,246 707,481 444,481" fill="#b0b1b5"/>
<polygon points="342,439 444,439 444,552 342,552" fill="#b0b1b5"/>
<polyline points="342,552.7 342,439 444,439" fill="none" stroke="#3a3a3c" stroke-width="1.9" />
<polyline points="444,481 444,229 620,229 620,246 707,246 707,481" fill="none" stroke="#3a3a3c" stroke-width="1.9" />
<line x1="444" y1="229" x2="686.8" y2="407" stroke="#3a3a3c" stroke-width="1.25" stroke-dasharray="6.5 3.5"/>
<line x1="707" y1="246" x2="444" y2="481" stroke="#3a3a3c" stroke-width="1.25" stroke-dasharray="6.5 3.5"/>
<circle cx="477.9" cy="263.5" r="0.95" fill="#2e2e2e"/>
<circle cx="513.2" cy="263.5" r="0.95" fill="#2e2e2e"/>
<circle cx="547.2" cy="263.5" r="0.95" fill="#2e2e2e"/>
<circle cx="582.5" cy="263.5" r="0.95" fill="#2e2e2e"/>
<circle cx="618.8" cy="263.5" r="0.95" fill="#2e2e2e"/>
<circle cx="477.9" cy="298.4" r="0.95" fill="#2e2e2e"/>
<circle cx="513.2" cy="298.4" r="0.95" fill="#2e2e2e"/>
<circle cx="547.2" cy="298.4" r="0.95" fill="#2e2e2e"/>
<circle cx="564.8" cy="298.4" r="0.95" fill="#2e2e2e"/>
<circle cx="582.5" cy="298.4" r="0.95" fill="#2e2e2e"/>
<circle cx="600.7" cy="298.4" r="0.95" fill="#2e2e2e"/>
<circle cx="618.8" cy="298.4" r="0.95" fill="#2e2e2e"/>
<circle cx="636.5" cy="298.4" r="0.95" fill="#2e2e2e"/>
<circle cx="654.2" cy="298.4" r="0.95" fill="#2e2e2e"/>
<circle cx="670.9" cy="298.4" r="0.95" fill="#2e2e2e"/>
<circle cx="688.1" cy="298.4" r="0.95" fill="#2e2e2e"/>
<circle cx="477.9" cy="343.3" r="0.95" fill="#2e2e2e"/>
<circle cx="513.2" cy="343.3" r="0.95" fill="#2e2e2e"/>
<circle cx="547.2" cy="343.3" r="0.95" fill="#2e2e2e"/>
<circle cx="582.5" cy="343.3" r="0.95" fill="#2e2e2e"/>
<circle cx="618.8" cy="343.3" r="0.95" fill="#2e2e2e"/>
<circle cx="654.2" cy="343.3" r="0.95" fill="#2e2e2e"/>
<circle cx="688.1" cy="343.3" r="0.95" fill="#2e2e2e"/>
<circle cx="477.9" cy="388.7" r="0.95" fill="#2e2e2e"/>
<circle cx="513.2" cy="388.7" r="0.95" fill="#2e2e2e"/>
<circle cx="547.2" cy="388.7" r="0.95" fill="#2e2e2e"/>
<circle cx="582.5" cy="388.7" r="0.95" fill="#2e2e2e"/>
<circle cx="618.8" cy="388.7" r="0.95" fill="#2e2e2e"/>
<circle cx="654.2" cy="388.7" r="0.95" fill="#2e2e2e"/>
<circle cx="477.9" cy="434" r="0.95" fill="#2e2e2e"/>
<circle cx="513.2" cy="434" r="0.95" fill="#2e2e2e"/>
<circle cx="547.2" cy="434" r="0.95" fill="#2e2e2e"/>
<circle cx="582.5" cy="434" r="0.95" fill="#2e2e2e"/>
<rect x="668.5" y="371.5" width="18.3" height="8.8" fill="none" stroke="#3a3a3c" stroke-width="1"/>
<rect x="686.8" y="371.5" width="18.8" height="35.5" fill="none" stroke="#3a3a3c" stroke-width="1.5"/>
<path d="M686.8,388.7 H705.6 M686.8,388.7 L705.6,407 M705.6,388.7 L686.8,407" stroke="#3a3a3c" stroke-width="0.9"/>
<rect x="619.4" y="407.5" width="80.5" height="27.2" fill="none" stroke="#3a3a3c" stroke-width="1.8"/>
<rect x="701.00" y="409.00" width="5.00" height="24.00" fill="#3a3a3a" />
<path d="M619.4,407.5 L699.9,434.7 M699.9,407.5 L619.4,434.7" stroke="#3a3a3c" stroke-width="0.9"/>
<line x1="619.4" y1="434.7" x2="619.4" y2="481" stroke="#3a3a3c" stroke-width="1.5" />
<polygon points="444,481 707,481 707,527 547.4,527 547.4,538.3 444,538.3" fill="#7fa0c8"/>
<rect x="555.50" y="477.60" width="57.20" height="2.90" fill="url(#p47)" />
<rect x="611.40" y="457.60" width="6.90" height="6.90" fill="#3a3a3a" />
<rect x="614.90" y="464.50" width="3.40" height="13.70" fill="#3a3a3a" />
<rect x="596.5" y="526.5" width="19" height="5.8" fill="#fff" stroke="#0d2a5a" stroke-width="0.9"/>
<rect x="678" y="526.5" width="10.6" height="9.1" fill="#fff" stroke="#0d2a5a" stroke-width="0.9"/>
<polyline points="491,481 491,484 486.5,489.5 491,489.5 491,494.8 480.5,494.8 480.5,538" fill="none" stroke="#0d2a5a" stroke-width="1.5" />
<polyline points="480.5,518.5 484,518.5 485.5,521 488,518.5 496,518.5 496,538" fill="none" stroke="#0d2a5a" stroke-width="1.5" />
<polyline points="531.8,538 531.8,522.6 535,522.6 537,525 539,522.6 547.4,522.6" fill="none" stroke="#0d2a5a" stroke-width="1.5" />
<polyline points="547.4,481 547.4,538" fill="none" stroke="#0d2a5a" stroke-width="1.5" />
<polyline points="547.4,488.5 583,488.5" fill="none" stroke="#0d2a5a" stroke-width="1.5" />
<polyline points="563,488.5 563,497" fill="none" stroke="#0d2a5a" stroke-width="1.5" />
<polyline points="583,481 583,497" fill="none" stroke="#0d2a5a" stroke-width="1.5" />
<polyline points="601,497 601,486.3 613,486.3 615,488.5 615,504.9 605,504.9" fill="none" stroke="#0d2a5a" stroke-width="1.5" />
<polyline points="547.4,512.2 688.6,512.2" fill="none" stroke="#0d2a5a" stroke-width="1.5" />
<polyline points="607,506.3 619.5,506.3 621.5,504.3 633.3,504.3 635.3,506.3 651.3,506.3 653.3,504.3 653.3,481" fill="none" stroke="#0d2a5a" stroke-width="1.5" />
<polyline points="560.7,512.2 560.7,526" fill="none" stroke="#0d2a5a" stroke-width="1.5" />
<polyline points="578,512.2 578,526" fill="none" stroke="#0d2a5a" stroke-width="1.5" />
<polyline points="595.9,512.2 595.9,526" fill="none" stroke="#0d2a5a" stroke-width="1.5" />
<polyline points="602,512.2 602,526" fill="none" stroke="#0d2a5a" stroke-width="1.5" />
<polyline points="618.3,512.2 618.3,526" fill="none" stroke="#0d2a5a" stroke-width="1.5" />
<polyline points="633,512.2 633,526" fill="none" stroke="#0d2a5a" stroke-width="1.5" />
<polyline points="648.8,512.2 648.8,526" fill="none" stroke="#0d2a5a" stroke-width="1.5" />
<polyline points="664.6,512.2 664.6,526" fill="none" stroke="#0d2a5a" stroke-width="1.5" />
<polyline points="676.6,512.2 676.6,526" fill="none" stroke="#0d2a5a" stroke-width="1.5" />
<polyline points="688.6,481 688.6,498" fill="none" stroke="#0d2a5a" stroke-width="1.5" />
<polyline points="688.6,503 688.6,526" fill="none" stroke="#0d2a5a" stroke-width="1.5" />
<polyline points="619.5,481 619.5,504.3" fill="none" stroke="#0d2a5a" stroke-width="1.5" />
<polyline points="635.3,481 635.3,504.3" fill="none" stroke="#0d2a5a" stroke-width="1.5" />
<polyline points="654.8,481 654.8,494 659.3,494 659.3,481" fill="none" stroke="#0d2a5a" stroke-width="1.5" />
<polyline points="668.3,481 668.3,491.3 681.8,491.3" fill="none" stroke="#0d2a5a" stroke-width="1.5" />
<polyline points="681.8,481 681.8,497" fill="none" stroke="#0d2a5a" stroke-width="1.5" />
<polyline points="688.6,487.5 707,487.5" fill="none" stroke="#0d2a5a" stroke-width="1.5" />
<polyline points="688.6,501.8 707,501.8" fill="none" stroke="#0d2a5a" stroke-width="1.5" />
<rect x="670.60" y="504.00" width="12.00" height="4.50" fill="#1a3f78" />
<ellipse cx="496.4" cy="507.8" rx="1.1" ry="1.1" fill="#0d2a5a"/>
<polygon points="444,481 707,481 707,527 547.4,527 547.4,538.3 444,538.3" fill="none" stroke="#0d2a5a" stroke-width="2.1"/>
<rect x="543.60" y="497.10" width="63.20" height="15.10" fill="#0e4a9b" />
<text x="575.4" y="508.1" font-size="8.8" font-weight="bold" fill="#fff" text-anchor="middle" textLength="45.7" lengthAdjust="spacingAndGlyphs">± 10 024 pi²</text>
<circle cx="403" cy="516.7" r="2.8" fill="#5a5a5c" stroke="#333" stroke-width="0.7"/>
<circle cx="403" cy="516.7" r="1.2" fill="#aaa"/>
<line x1="405.5" y1="516.9" x2="417.5" y2="528.9" stroke="#333" stroke-width="0.7" stroke-dasharray="1.5 0.8"/>
<rect x="410.00" y="538.20" width="29.00" height="7.80" fill="#3a3a3a" />
<rect x="410.00" y="546.00" width="32.50" height="3.30" fill="#111" />
<rect x="430.00" y="544.00" width="12.20" height="4.30" fill="#fff" />
<rect x="439.00" y="533.00" width="5.00" height="5.20" fill="#2a2a2a" />
<rect x="412.30" y="540.00" width="3.30" height="7.00" fill="#e8e8e8" />
<rect x="410.00" y="549.30" width="34.00" height="4.20" fill="#fff" />
<line x1="342" y1="552.7" x2="410" y2="552.7" stroke="#3a3a3c" stroke-width="1.6" />
<line x1="410" y1="538.2" x2="410" y2="553" stroke="#3a3a3c" stroke-width="1.4" />
<rect x="406.2" y="529.8" width="45.8" height="26.6" rx="3.5" fill="none" stroke="#333" stroke-width="0.8" stroke-dasharray="1.8 0.9"/>
<path d="M444,530.5 A4.5,4.5 0 0 1 451,537" fill="none" stroke="#0d2a5a" stroke-width="0.8"/>
</svg></body></html>
